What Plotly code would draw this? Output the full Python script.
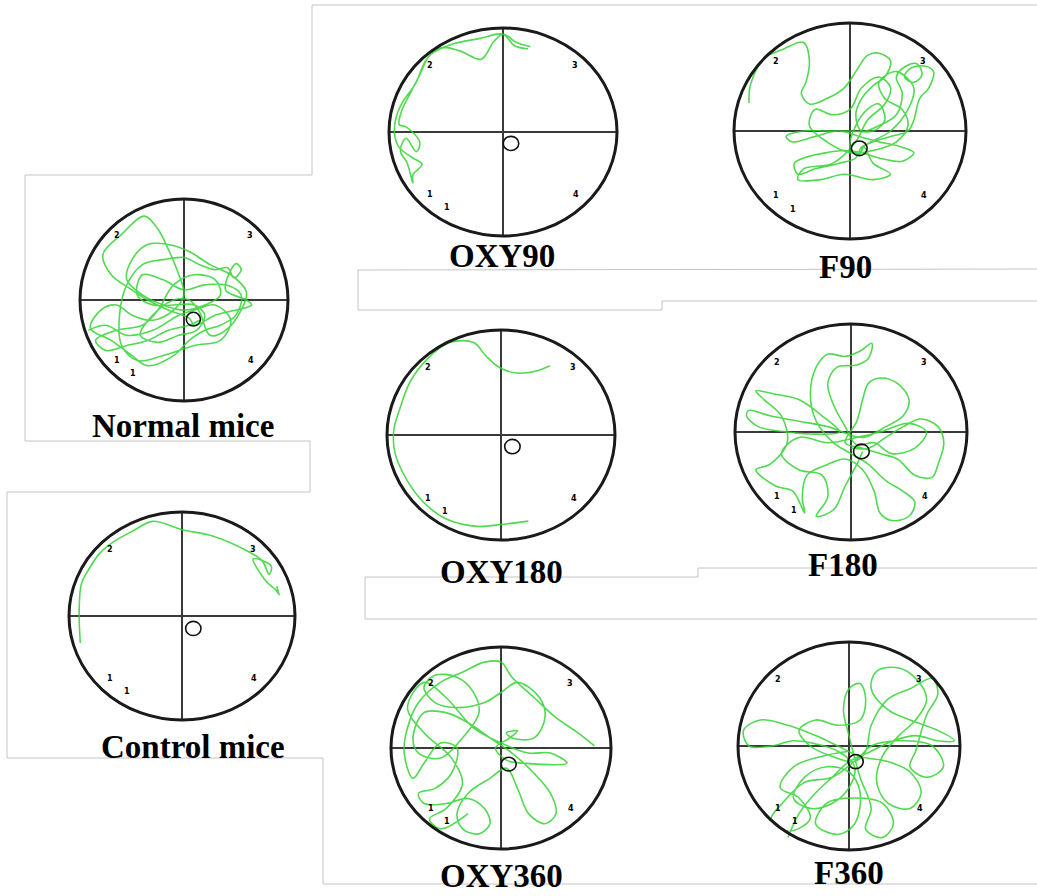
import plotly.graph_objects as go

W, H = 1037, 896

# ---------------- data ----------------
titles = ["Normal mice", "Control mice", "OXY90", "F90", "OXY180", "F180", "OXY360", "F360"]

normal_x = [-0.92, -0.75, -0.55, -0.30, -0.05, 0.10, 0.30, 0.45, 0.35, 0.10, -0.20, -0.45, -0.60, -0.62, -0.55, -0.40,
            -0.20, 0.00, 0.15, 0.30, 0.42, 0.48, 0.55, 0.50, 0.40, 0.60, 0.65, 0.50, 0.30, 0.10, 0.05, -0.15, -0.35,
            -0.50, -0.70, -0.78, -0.60, -0.38, -0.25, -0.15, -0.05, 0.00, -0.10, -0.30, -0.50, -0.65, -0.80, -0.90,
            -0.70, -0.50, -0.35, -0.10, 0.05, 0.20, 0.35, 0.50, 0.55, 0.40, 0.20, 0.00, -0.20, -0.40, -0.45, -0.30,
            -0.10, 0.10, 0.20, 0.12, -0.05, -0.25, -0.42, -0.30, -0.10, 0.05, 0.15,
            0.25, 0.40, 0.55, 0.60, 0.45, 0.25, 0.05, -0.15, -0.35, -0.50, -0.55, -0.40, -0.20, 0.00, 0.20, 0.35,
            0.30, 0.10, -0.10, -0.25, -0.40, -0.65, -0.85, -0.75, -0.55, -0.35, -0.15, 0.05, 0.15]
normal_y = [-0.30, -0.25, -0.35, -0.30, -0.15, -0.10, -0.05, -0.20, -0.40, -0.45, -0.55, -0.60, -0.45, -0.15, 0.15, 0.35,
            0.40, 0.42, 0.35, 0.30, 0.32, 0.22, 0.30, 0.36, 0.10, 0.00, -0.05, -0.10, -0.15, -0.25, -0.18, -0.10, 0.00,
            0.10, 0.25, 0.45, 0.65, 0.83, 0.70, 0.50, 0.25, 0.05, -0.10, -0.20, -0.15, -0.05, -0.10, -0.28,
            -0.40, -0.55, -0.65, -0.55, -0.40, -0.30, -0.25, -0.15, 0.05, 0.15, 0.15, 0.10, 0.20, 0.25, 0.05, -0.05,
            -0.05, -0.05, -0.15, -0.30, -0.35, -0.42, -0.35, -0.15, 0.00, 0.00, -0.12,
            -0.35, -0.30, -0.10, 0.08, 0.25, 0.35, 0.48, 0.55, 0.55, 0.40, 0.20, 0.05, -0.05, -0.10, -0.05, 0.05,
            0.20, 0.25, 0.15, -0.10, -0.25, -0.30, -0.40, -0.50, -0.45, -0.40, -0.30, -0.25, -0.20]

control_x = [-0.90, -0.91, -0.89, -0.83, -0.73, -0.61, -0.43, -0.26, 0.00, 0.27, 0.57, 0.71, 0.77, 0.79, 0.63, 0.74,
             0.83, 0.85, 0.84, 0.86]
control_y = [-0.26, 0.05, 0.31, 0.44, 0.60, 0.71, 0.82, 0.91, 0.83, 0.77, 0.63, 0.53, 0.40, 0.48, 0.55, 0.34,
             0.25, 0.22, 0.28, 0.20]

oxy90_x = [0.24, 0.12, 0.00, -0.08, -0.19, -0.38, -0.55, -0.67, -0.77, -0.88, -0.94, -0.95, -0.91, -0.79, -0.71,
           -0.79, -0.79, -0.84, -0.90, -0.85, -0.76, -0.73, -0.85, -0.91, -0.89, -0.82, -0.73, -0.64, -0.46, -0.20,
           0.00, 0.10, 0.22]
oxy90_y = [0.82, 0.86, 0.94, 0.87, 0.70, 0.78, 0.81, 0.70, 0.46, 0.29, 0.13, -0.03, -0.15, -0.25, -0.31,
           -0.41, -0.49, -0.30, -0.18, -0.06, -0.19, -0.10, 0.05, 0.07, 0.20, 0.36, 0.55, 0.74, 0.84, 0.90,
           0.94, 0.83, 0.80]

f90_x = [-0.87, -0.86, -0.74, -0.57, -0.40, -0.35, -0.38, -0.42, -0.35, -0.20, -0.05, 0.05, 0.15, 0.25, 0.35, 0.30,
         0.20, 0.10, 0.05, 0.10, 0.25, 0.40, 0.45, 0.40, 0.48, 0.58, 0.62, 0.55, 0.47, 0.52, 0.65, 0.72, 0.68, 0.60,
         0.55, 0.50, 0.35, 0.20, 0.10, 0.05, -0.10, -0.30, -0.45, -0.48, -0.40, -0.20, -0.05, 0.10, 0.25, 0.45,
         0.55, 0.45, 0.25, 0.08, -0.10, -0.30, -0.50, -0.55, -0.40, -0.20, 0.00, 0.20, 0.30, 0.25, 0.15, 0.05,
         0.00, 0.08, 0.12,
         0.20, 0.35, 0.20, -0.05, -0.25, -0.45, -0.40, -0.15, 0.05, 0.15, 0.30, 0.35, 0.25, 0.10, 0.00, -0.15,
         -0.30, -0.35, -0.20, 0.00, 0.20, 0.40, 0.50, 0.45, 0.30, 0.25, 0.40, 0.55, 0.50, 0.35, 0.15, 0.10]
f90_y = [0.26, 0.42, 0.67, 0.76, 0.82, 0.65, 0.45, 0.35, 0.25, 0.30, 0.40, 0.55, 0.70, 0.72, 0.65, 0.50,
         0.42, 0.30, 0.15, 0.00, 0.05, 0.15, 0.35, 0.50, 0.60, 0.62, 0.52, 0.45, 0.50, 0.58, 0.60, 0.55, 0.40, 0.30,
         0.10, 0.00, -0.05, -0.10, -0.15, -0.25, -0.30, -0.35, -0.40, -0.30, -0.25, -0.20, -0.18, -0.20, -0.25, -0.28,
         -0.20, -0.15, -0.10, -0.05, 0.00, -0.05, -0.10, -0.05, 0.00, 0.00, 0.00, 0.00, 0.10, 0.25, 0.20, 0.05,
         -0.15, -0.22, -0.15,
         -0.30, -0.40, -0.45, -0.40, -0.45, -0.45, -0.35, -0.30, -0.10, 0.10, 0.25, 0.40, 0.50, 0.40, 0.20, 0.15,
         0.20, 0.05, -0.10, -0.20, -0.18, -0.10, 0.05, 0.20, 0.30, 0.45, 0.55, 0.40, 0.20, 0.00, -0.12, -0.17]

oxy180_x = [0.43, 0.31, 0.14, -0.01, -0.13, -0.24, -0.45, -0.65, -0.80, -0.89, -0.94, -0.93, -0.83, -0.68, -0.48,
            -0.21, 0.02, 0.24]
oxy180_y = [0.66, 0.61, 0.59, 0.64, 0.75, 0.88, 0.88, 0.72, 0.50, 0.24, 0.05, -0.17, -0.42, -0.64, -0.80,
            -0.87, -0.85, -0.82]

f180_x = [0.00, 0.15, 0.30, 0.45, 0.60, 0.75, 0.80, 0.75, 0.70, 0.55, 0.40, 0.25, 0.10, -0.05, 0.05, 0.10, 0.15,
          0.25, 0.40, 0.50, 0.45, 0.30, 0.10, -0.20, -0.45, -0.70, -0.88, -0.90, -0.80, -0.55, -0.30, -0.10, -0.25,
          -0.45, -0.65, -0.82, -0.75, -0.60, -0.55, -0.70, -0.82, -0.65, -0.50, -0.40, -0.42, -0.38, -0.20, -0.05,
          0.10, 0.20, 0.25, 0.35, 0.50, 0.55, 0.45, 0.30, 0.15, 0.00, -0.15, -0.30, -0.35, -0.30, -0.20, -0.05,
          0.08, 0.18, 0.15, 0.05, -0.12, -0.20, -0.15, -0.05, 0.05,
          0.20, 0.35, 0.55, 0.65, 0.50, 0.25, 0.05, -0.20, -0.45, -0.60, -0.45, -0.25, -0.20, -0.30, -0.15,
          -0.05, 0.05, 0.10]
f180_y = [-0.15, -0.15, -0.05, 0.05, 0.12, 0.05, -0.10, -0.30, -0.42, -0.40, -0.25, -0.20, -0.15, -0.10, 0.10, 0.30,
          0.45, 0.50, 0.45, 0.30, 0.15, 0.05, -0.05, 0.05, 0.10, 0.15, 0.20, 0.15, 0.05, 0.00, -0.02, 0.00, 0.15,
          0.30, 0.35, 0.38, 0.30, 0.15, -0.10, -0.30, -0.35, -0.50, -0.55, -0.75, -0.60, -0.40, -0.30, -0.25,
          -0.35, -0.55, -0.75, -0.82, -0.78, -0.65, -0.55, -0.45, -0.30, -0.20, -0.10, 0.10, 0.35, 0.60, 0.72, 0.70,
          0.75, 0.82, 0.68, 0.62, 0.60, 0.45, 0.25, 0.05, -0.12,
          -0.10, -0.20, -0.15, 0.00, 0.08, 0.00, -0.05, -0.10, -0.05, -0.20, -0.35, -0.40, -0.60, -0.78, -0.72,
          -0.50, -0.30, -0.18]

oxy360_x = [0.85, 0.70, 0.50, 0.30, 0.10, 0.00, -0.15, -0.35, -0.55, -0.75, -0.85, -0.88, -0.80, -0.70, -0.55,
            -0.40, -0.45, -0.60, -0.75, -0.70, -0.50, -0.30, -0.15, -0.10, -0.20, -0.35, -0.40, -0.30, -0.10, 0.05,
            0.15, 0.25, 0.40, 0.50, 0.45, 0.30, 0.10, -0.10, -0.30, -0.50, -0.70, -0.80, -0.75, -0.55, -0.35, -0.20,
            -0.25, -0.40, -0.60, -0.70, -0.60, -0.40, -0.15, 0.00, 0.15, 0.35, 0.40, 0.30, 0.10, 0.05, 0.15, 0.08,
            -0.05, 0.05, 0.20, 0.60, 0.45, 0.25,
            0.00, -0.25, -0.50, -0.70, -0.85, -0.70, -0.45, -0.35, -0.50, -0.65, -0.55, -0.30]
oxy360_y = [0.02, 0.15, 0.30, 0.50, 0.70, 0.85, 0.85, 0.75, 0.65, 0.45, 0.20, -0.05, -0.30, -0.15, 0.05,
            0.00, -0.25, -0.40, -0.45, -0.55, -0.55, -0.50, -0.60, -0.75, -0.85, -0.80, -0.65, -0.45, -0.30, -0.20,
            -0.40, -0.65, -0.75, -0.65, -0.45, -0.25, -0.05, 0.10, 0.25, 0.35, 0.35, 0.10, -0.05, -0.10, 0.10, 0.35,
            0.55, 0.70, 0.72, 0.60, 0.45, 0.40, 0.45, 0.55, 0.65, 0.50, 0.30, 0.10, 0.10, 0.15, 0.17, 0.10,
            0.00, -0.12, -0.15, -0.15, -0.05, -0.05,
            0.05, 0.20, 0.50, 0.65, 0.40, 0.15, -0.10, -0.35, -0.60, -0.70, -0.80, -0.65]

f360_x = [-0.55, -0.45, -0.30, -0.15, 0.00, 0.20, 0.40, 0.60, 0.80, 0.95, 0.80, 0.55, 0.35, 0.20, 0.25, 0.45,
          0.60, 0.70, 0.60, 0.45, 0.30, 0.25, 0.35, 0.55, 0.65, 0.55, 0.35, 0.10, -0.10, -0.30, -0.55, -0.80,
          -0.95, -0.90, -0.70, -0.50, -0.30, -0.10, 0.05, 0.00, -0.15, -0.35, -0.50, -0.40, -0.20, 0.00, 0.10,
          0.05, -0.10, -0.30, -0.20, 0.05, 0.30, 0.40, 0.30, 0.15, 0.20, 0.10, 0.00, -0.05, 0.00, 0.10, 0.15,
          0.10, -0.10, -0.30, -0.45, -0.35, -0.15, 0.05, 0.15, 0.20, 0.35, 0.55, 0.75, 0.80, 0.70, 0.60, 0.55,
          0.70, 0.85, 0.75, 0.45, 0.20, 0.08,
          -0.15, -0.40, -0.60, -0.70, -0.55, -0.35, -0.45, -0.62, -0.50, -0.25, 0.00]
f360_y = [-0.88, -0.65, -0.45, -0.30, -0.15, -0.05, 0.05, 0.10, 0.05, 0.05, 0.15, 0.25, 0.35, 0.55, 0.72, 0.75,
          0.65, 0.45, 0.25, 0.10, -0.10, -0.35, -0.55, -0.60, -0.45, -0.25, -0.15, -0.10, 0.00, 0.10, 0.20, 0.25,
          0.15, 0.00, 0.00, 0.05, 0.02, -0.05, -0.20, -0.40, -0.55, -0.60, -0.50, -0.30, -0.20, -0.25, -0.45,
          -0.75, -0.85, -0.75, -0.55, -0.50, -0.55, -0.75, -0.88, -0.80, -0.60, -0.30, 0.10, 0.35, 0.55, 0.60, 0.45,
          0.25, 0.20, 0.25, 0.15, 0.00, -0.10, -0.15, -0.05, 0.20, 0.45, 0.55, 0.65, 0.50, 0.30, -0.05, -0.20,
          -0.30, -0.20, 0.00, 0.05, 0.00, -0.12,
          -0.30, -0.35, -0.55, -0.70, -0.82, -0.70, -0.50, -0.40, -0.20, -0.10, -0.05]

paths_x = [normal_x, control_x, oxy90_x, f90_x, oxy180_x, f180_x, oxy360_x, f360_x]
paths_y = [normal_y, control_y, oxy90_y, f90_y, oxy180_y, f180_y, oxy360_y, f360_y]

platform_x = [0.09, 0.10, 0.07, 0.08, 0.10, 0.09, 0.07, 0.06]
platform_y = [-0.19, -0.12, -0.11, -0.16, -0.11, -0.18, -0.16, -0.15]

quad_labels = ["2", "3", "1", "1", "4"]
quad_x = [-0.64, 0.63, -0.64, -0.49, 0.64]
quad_y = [0.64, 0.64, -0.60, -0.73, -0.60]

# ---------------- layout geometry (pixels) ----------------
# (center x, center y, radius x, radius y, title x, title y)
panels = [
    (184, 300, 104, 101, 183, 426),
    (182, 616, 113, 104, 193, 747),
    (503, 132, 114, 104, 502, 256),
    (850, 131, 116, 108, 845, 267),
    (501, 435, 114, 105, 501, 572),
    (851, 432, 116, 108, 843, 565),
    (501, 748, 110, 101, 501, 876),
    (849, 746, 111, 104, 849, 873),
]

frame_segments = [
    ((312, 5), (1037, 5)), ((312, 5), (312, 175)), ((25, 175), (312, 175)), ((25, 175), (25, 441)),
    ((25, 441), (310, 441)), ((310, 441), (310, 492)), ((7, 492), (310, 492)), ((7, 492), (7, 758)),
    ((7, 758), (323, 758)), ((323, 758), (323, 884)), ((323, 884), (1037, 884)),
    ((358, 270), (1037, 269)), ((358, 270), (358, 310)), ((358, 310), (662, 310)), ((662, 310), (662, 301)),
    ((662, 301), (1037, 301)),
    ((365, 577), (698, 577)), ((698, 577), (698, 568)), ((698, 568), (1037, 568)),
    ((365, 577), (365, 619)), ((365, 619), (1037, 619)),
]


def px(x):
    return x / W


def py(y):
    return 1 - y / H


PAD = 1.15
fig = go.Figure()
shapes = []
annotations = []
layout_axes = {}

for i, (cx, cy, rx, ry, tx, ty) in enumerate(panels):
    n = "" if i == 0 else str(i + 1)
    xa, ya = "x" + n, "y" + n
    layout_axes["xaxis" + n] = dict(domain=[px(cx - rx * PAD), px(cx + rx * PAD)], range=[-PAD, PAD],
                                    anchor=ya, visible=False, fixedrange=True)
    layout_axes["yaxis" + n] = dict(domain=[py(cy + ry * PAD), py(cy - ry * PAD)], range=[-PAD, PAD],
                                    anchor=xa, visible=False, fixedrange=True)

    fig.add_trace(go.Scatter(x=paths_x[i], y=paths_y[i], xaxis=xa, yaxis=ya, mode="lines",
                             line=dict(color="rgba(50,210,50,0.85)", width=1.6, shape="spline", smoothing=1.0),
                             hoverinfo="skip", showlegend=False))

    # crosshair
    shapes.append(dict(type="line", xref=xa, yref=ya, x0=-1, x1=1, y0=0, y1=0,
                       line=dict(color="#3a3a3a", width=2), layer="below"))
    shapes.append(dict(type="line", xref=xa, yref=ya, x0=0, x1=0, y0=-1, y1=1,
                       line=dict(color="#3a3a3a", width=2), layer="below"))
    # pool wall
    shapes.append(dict(type="circle", xref=xa, yref=ya, x0=-1, x1=1, y0=-1, y1=1,
                       line=dict(color="#1a1a1a", width=3)))
    # platform
    pr = 0.068
    shapes.append(dict(type="circle", xref=xa, yref=ya,
                       x0=platform_x[i] - pr, x1=platform_x[i] + pr,
                       y0=platform_y[i] - pr, y1=platform_y[i] + pr,
                       line=dict(color="#111111", width=1.6)))
    # quadrant labels
    for lab, qx, qy in zip(quad_labels, quad_x, quad_y):
        annotations.append(dict(text=lab, x=qx, y=qy, xref=xa, yref=ya, showarrow=False,
                                font=dict(family="DejaVu Sans", size=8, color="#000000", weight="bold")))
    # title
    annotations.append(dict(text=titles[i], x=px(tx), y=py(ty), xref="paper", yref="paper",
                            showarrow=False, xanchor="center", yanchor="middle",
                            font=dict(family="Liberation Serif", size=33, color="black", weight="bold")))

for (x0, y0), (x1, y1) in frame_segments:
    shapes.append(dict(type="line", xref="paper", yref="paper", x0=px(x0), y0=py(y0), x1=px(x1), y1=py(y1),
                       line=dict(color="#c4c4c4", width=1), layer="below"))

fig.update_layout(width=W, height=H, margin=dict(l=0, r=0, t=0, b=0),
                  paper_bgcolor="white", plot_bgcolor="rgba(0,0,0,0)",
                  shapes=shapes, annotations=annotations, showlegend=False, **layout_axes)

fig.write_html("out.html", config={"displayModeBar": False})
